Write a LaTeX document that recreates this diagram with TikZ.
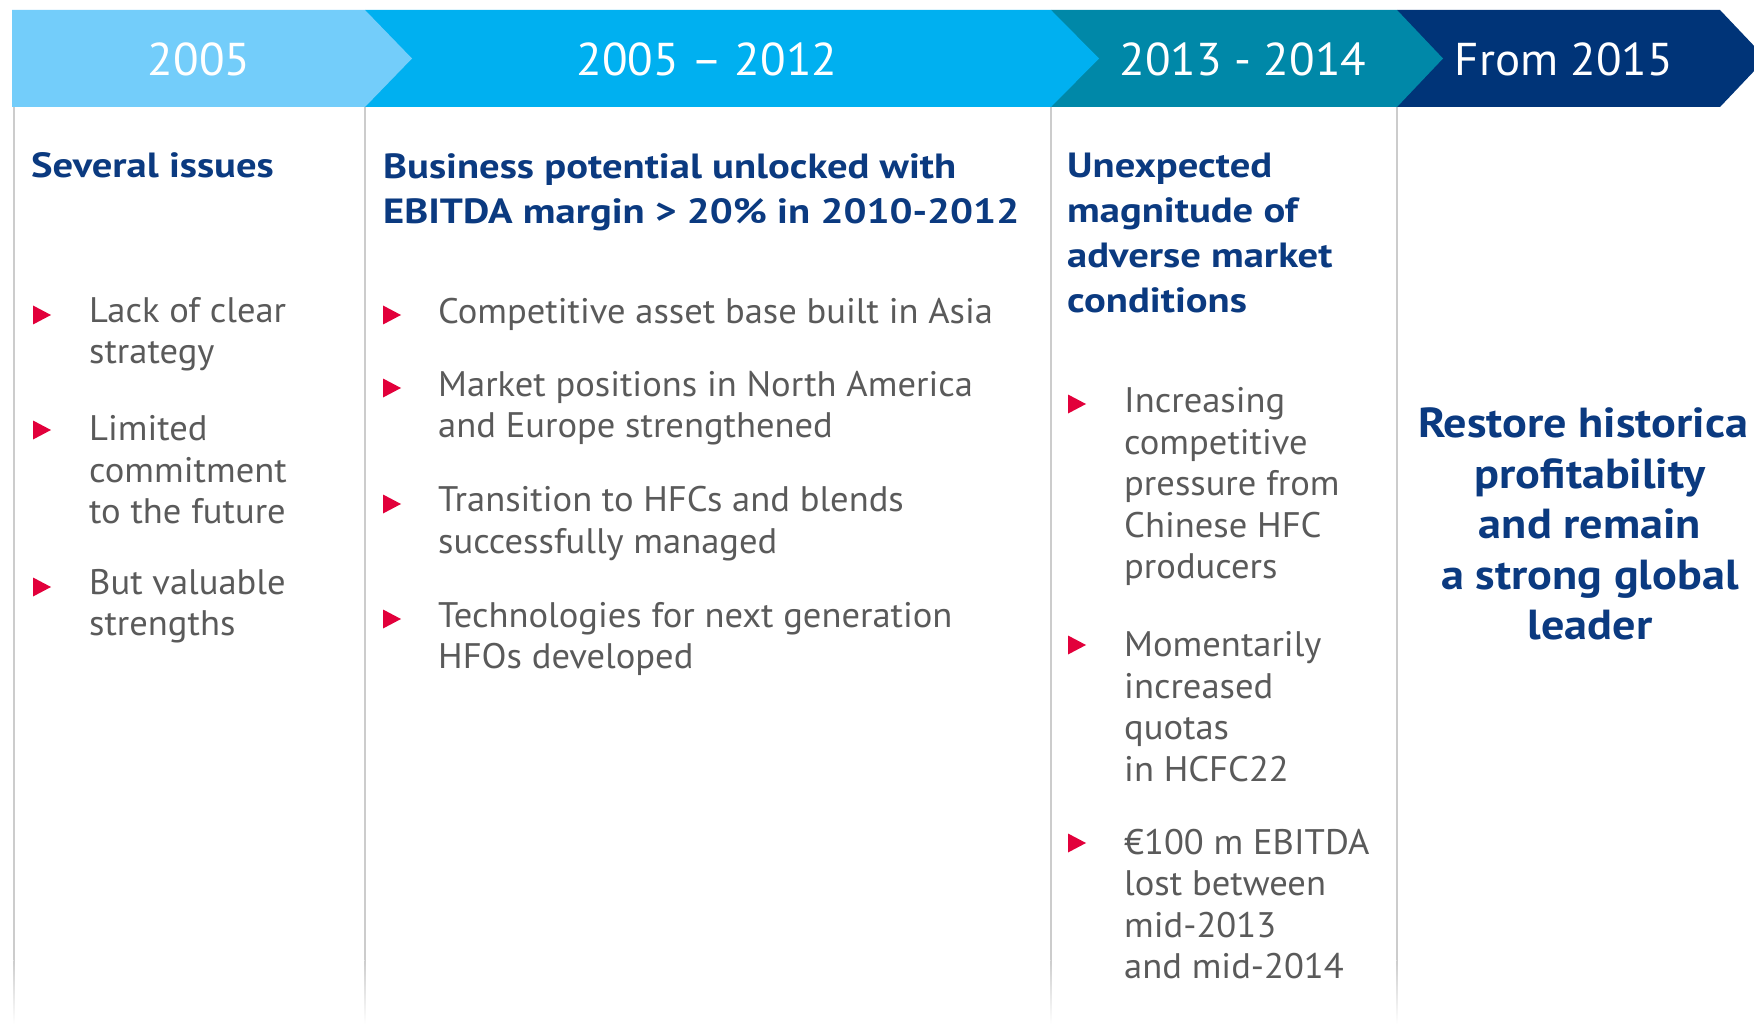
\documentclass[tikz,border=0pt]{standalone}
\usepackage{fontspec}
\setmainfont{PT Sans}
\newfontfamily\bodyf[FakeStretch=1.03]{PT Sans}
\newfontfamily\headf[FakeStretch=1.16]{PT Sans}
\newfontfamily\bigf[FakeStretch=1.10]{PT Sans}
\newfontfamily\yearf[FakeStretch=1.02]{PT Sans}
\definecolor{chevA}{HTML}{73CDFA}
\definecolor{chevB}{HTML}{00B0F0}
\definecolor{chevC}{HTML}{0088A8}
\definecolor{chevD}{HTML}{003478}
\definecolor{navy}{HTML}{0B3A80}
\definecolor{bodygray}{HTML}{5A5A5A}
\definecolor{bulred}{HTML}{E2003B}
\definecolor{sepgray}{HTML}{CCCCCC}
\tikzset{
  yeartxt/.style={text=white, font=\yearf\fontsize{46}{50}\selectfont, inner sep=0pt},
  headtxt/.style={text=navy, font=\headf\bfseries\fontsize{35}{45}\selectfont, align=left, anchor=west, inner sep=0pt},
  bodytxt/.style={text=bodygray, font=\bodyf\fontsize{35.5}{41.5}\selectfont, align=left, anchor=west, inner sep=0pt},
  bigtxt/.style={text=navy, font=\bigf\bfseries\fontsize{42}{50.5}\selectfont, align=center, inner sep=0pt},
  sepline/.style={draw=sepgray, line width=1.5pt},
  sepfade/.style={top color=sepgray, bottom color=white, draw=none},
  bullet/.style={fill=bulred}
}
\newcommand{\bul}[2]{\fill[bullet] (#1-9,#2-9.5) -- (#1+9,#2) -- (#1-9,#2+9.5) -- cycle;}
\newcommand{\sepfadeat}[1]{\shade[sepfade] (#1-0.75,960) rectangle (#1+0.75,1024);}
\begin{document}
\begin{tikzpicture}[x=1pt,y=-1pt]
\useasboundingbox (0,0) rectangle (1754,1024);
\fill[white] (0,0) rectangle (1754,1024);
% separators
\coordinate (s1t) at (14,107); \coordinate (s1b) at (14,960);
\coordinate (s2t) at (365,107); \coordinate (s2b) at (365,960);
\coordinate (s3t) at (1051,107); \coordinate (s3b) at (1051,960);
\coordinate (s4t) at (1397,107); \coordinate (s4b) at (1397,960);
\draw[sepline] (s1t) -- (s1b);
\draw[sepline] (s2t) -- (s2b);
\draw[sepline] (s3t) -- (s3b);
\draw[sepline] (s4t) -- (s4b);
\sepfadeat{14}\sepfadeat{365}\sepfadeat{1051}\sepfadeat{1397}
% chevrons
\fill[chevD] (1397,10) -- (1720,10) -- (1766,58.5) -- (1720,107) -- (1397,107) -- cycle;
\fill[chevC] (1051,10) -- (1397,10) -- (1443,58.5) -- (1397,107) -- (1051,107) -- cycle;
\fill[chevB] (365,10) -- (1051,10) -- (1099,58.5) -- (1051,107) -- (365,107) -- cycle;
\fill[chevA] (12,10) -- (365,10) -- (412,58.5) -- (365,107) -- (12,107) -- cycle;
\node[yeartxt] (y1) at (199,59) {2005};
\node[yeartxt] (y2) at (707,59) {2005 – 2012};
\node[yeartxt] (y3) at (1243,59) {2013 - 2014};
\node[yeartxt] (y4) at (1564,59) {From 2015};
% column 1
\node[headtxt] (h1) at (31,165) {Several issues};
\bul{42}{315}
\node[bodytxt] (t11) at (89,334) {Lack of clear\\strategy};
\bul{42}{430}
\node[bodytxt] (t12) at (89,470) {Limited\\commitment\\to the future};
\bul{42}{587}
\node[bodytxt] (t13) at (89,606) {But valuable\\strengths};
% column 2
\node[headtxt] (h2) at (383,192) {Business potential unlocked with\\EBITDA margin > 20\% in 2010-2012};
\bul{392}{315}
\node[bodytxt] (t21) at (438,314) {Competitive asset base built in Asia};
\bul{392}{388}
\node[bodytxt] (t22) at (438,408) {Market positions in North America\\and Europe strengthened};
\bul{392}{504}
\node[bodytxt] (t23) at (438,523.5) {Transition to HFCs and blends\\successfully managed};
\bul{392}{619}
\node[bodytxt] (t24) at (438,639) {Technologies for next generation\\HFOs developed};
% column 3
\node[headtxt] (h3) at (1067,233) {Unexpected\\magnitude of\\adverse market\\conditions};
\bul{1077}{404}
\node[bodytxt] (t31) at (1124,486.5) {Increasing\\competitive\\pressure from\\Chinese HFC\\producers};
\bul{1077}{645}
\node[bodytxt] (t32) at (1124,706.5) {Momentarily\\increased\\quotas\\in HCFC22};
\bul{1077}{843}
\node[bodytxt] (t33) at (1124,904) {€100 m EBITDA\\lost between\\mid-2013\\and mid-2014};
% column 4
\node[bigtxt] (t41) at (1590,524) {Restore historica\hphantom{l}\\profitability\\and remain\\a strong global\\leader};
\end{tikzpicture}
\end{document}
